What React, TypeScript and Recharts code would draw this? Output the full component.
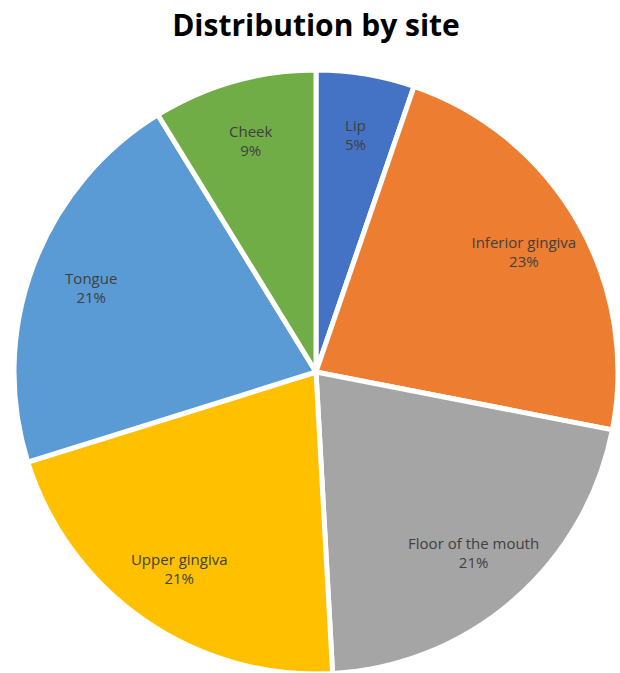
import React from "react";
import { PieChart, Pie, Cell } from "recharts";

const sites = ["Lip", "Inferior gingiva", "Floor of the mouth", "Upper gingiva", "Tongue", "Cheek"];
const counts = [3, 13, 12, 12, 12, 5];
const colors = ["#4472C4", "#ED7D31", "#A5A5A5", "#FFC000", "#5B9BD5", "#70AD47"];

const data = sites.map((name, i) => ({ name, value: counts[i] }));
const total = counts.reduce((a, b) => a + b, 0);

const RAD = Math.PI / 180;

const renderLabel = (props: any) => {
  const { cx, cy, midAngle, name, value } = props;
  const r = 240;
  const x = cx + r * Math.cos(-midAngle * RAD);
  const y = cy + r * Math.sin(-midAngle * RAD);
  const pct = Math.round((value / total) * 100) + "%";
  return (
    <text x={x} y={y} textAnchor="middle" fill="#404040" fontSize={15} fontFamily="'Open Sans', sans-serif">
      <tspan x={x} dy={-4}>{name}</tspan>
      <tspan x={x} dy={19}>{pct}</tspan>
    </text>
  );
};

export default function App() {
  return (
    <div style={{ position: "absolute", left: 0, top: 0, width: 620, height: 673, background: "#fff", overflow: "hidden" }}>
      <div
        style={{
          position: "absolute",
          top: 4,
          width: 632,
          textAlign: "center",
          fontFamily: "'Open Sans', sans-serif",
          fontWeight: 700,
          fontSize: 30,
          color: "#000",
        }}
      >
        Distribution by site
      </div>
      <PieChart width={620} height={673} margin={{ top: 0, right: 0, bottom: 0, left: 0 }}>
        <Pie
          data={data}
          dataKey="value"
          nameKey="name"
          cx={316}
          cy={372}
          outerRadius={302}
          startAngle={90}
          endAngle={-270}
          stroke="#fff"
          strokeWidth={5}
          label={renderLabel}
          labelLine={false}
          isAnimationActive={false}
        >
          {data.map((d, i) => (
            <Cell key={d.name} fill={colors[i]} />
          ))}
        </Pie>
      </PieChart>
    </div>
  );
}
